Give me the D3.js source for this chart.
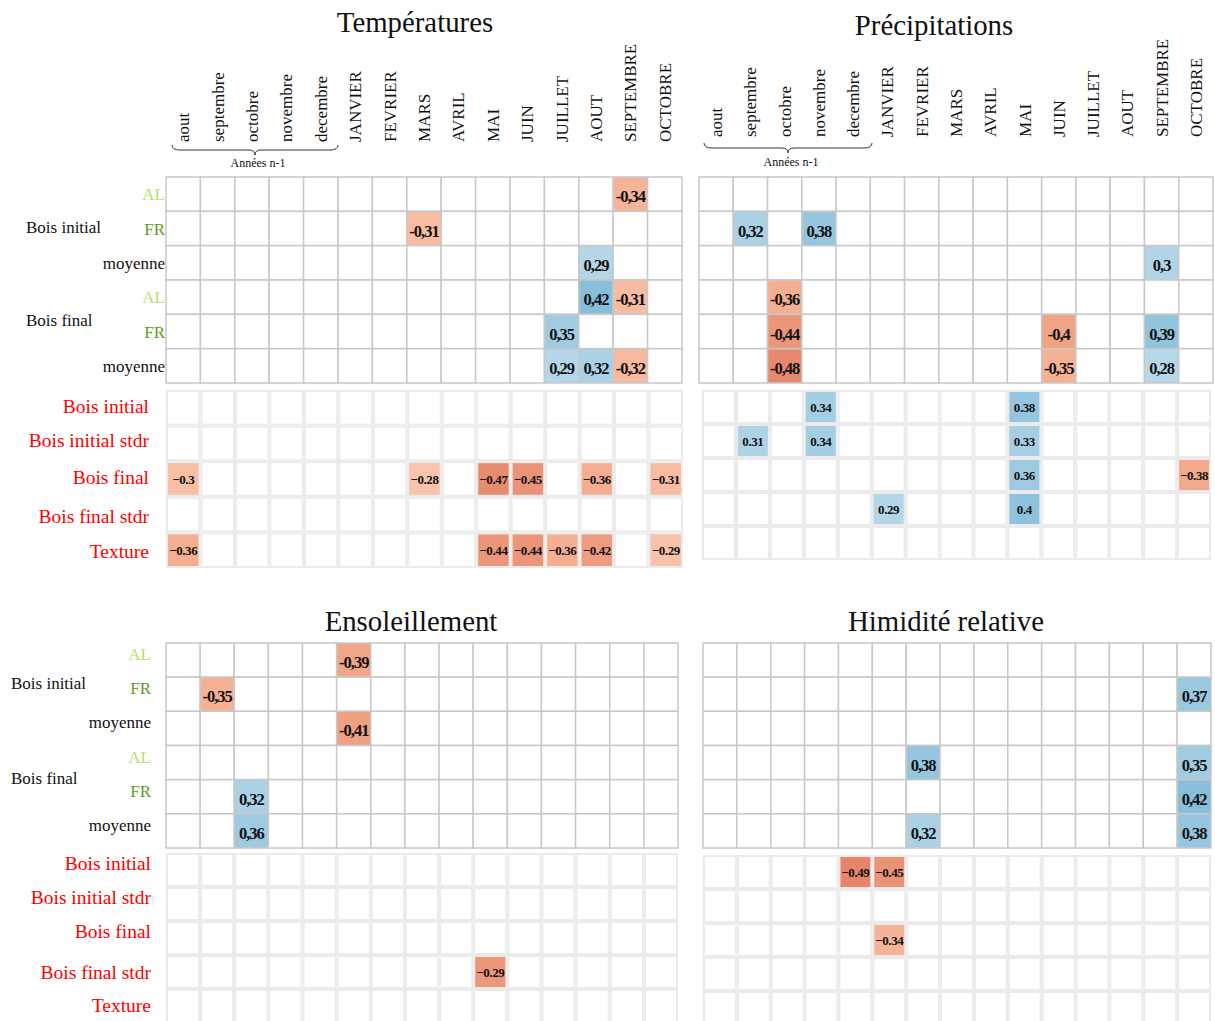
<!DOCTYPE html>
<html><head><meta charset="utf-8">
<script src="https://cdn.jsdelivr.net/npm/d3@7"></script>
<style>body{margin:0;background:#fff}svg{display:block}text{font-family:"Liberation Serif","Times New Roman",serif}</style>
</head><body>
<script>
// ---------- DATA ----------
const months = ["aout","septembre","octobre","novembre","decembre","JANVIER","FEVRIER","MARS","AVRIL","MAI","JUIN","JUILLET","AOUT","SEPTEMBRE","OCTOBRE"];
const upperRows = ["AL","FR","moyenne","AL","FR","moyenne"];
const upperGroups = ["Bois initial","Bois final"];
const lowerRows = ["Bois initial","Bois initial stdr","Bois final","Bois final stdr","Texture"];
const panelTitles = ["Températures","Précipitations","Ensoleillement","Himidité relative"];
const braceLabel = "Années n-1";

// [rowIndex, monthIndex, r]
const tempUpper = [[0,13,-0.34],[1,7,-0.31],[2,12,0.29],[3,12,0.42],[3,13,-0.31],[4,11,0.35],[5,11,0.29],[5,12,0.32],[5,13,-0.32]];
const tempLower = [[2,0,-0.3],[2,7,-0.28],[2,9,-0.47],[2,10,-0.45],[2,12,-0.36],[2,14,-0.31],
                   [4,0,-0.36],[4,9,-0.44],[4,10,-0.44],[4,11,-0.36],[4,12,-0.42],[4,14,-0.29]];
const precUpper = [[1,1,0.32],[1,3,0.38],[2,13,0.3],[3,2,-0.36],[4,2,-0.44],[4,10,-0.4],[4,13,0.39],[5,2,-0.48],[5,10,-0.35],[5,13,0.28]];
const precLower = [[0,3,0.34],[0,9,0.38],[1,1,0.31],[1,3,0.34],[1,9,0.33],[2,9,0.36],[2,14,-0.38],[3,5,0.29],[3,9,0.4]];
const sunUpper = [[0,5,-0.39],[1,1,-0.35],[2,5,-0.41],[4,2,0.32],[5,2,0.36]];
const sunLower = [[3,9,-0.29]];
const humUpper = [[1,14,0.37],[3,6,0.38],[3,14,0.35],[4,14,0.42],[5,6,0.32],[5,14,0.38]];
const humLower = [[0,4,-0.49],[0,5,-0.45],[2,5,-0.34]];

// ---------- LAYOUT ----------
const W = 1215, H = 1021;
const svg = d3.select("body").append("svg").attr("width", W).attr("height", H);
const color = v => d3.interpolateRdBu((v + 1) / 2);
const AL_COLOR = "#b5e36c", FR_COLOR = "#5a9e22";

const panels = [
  {title: panelTitles[0], tx: 415, ty: 32, up: tempUpper, lo: tempLower, loGain: 1,
   ux: [166, 682], uy: [177, 383], lx: [166, 683], ly: [390, 568],
   header: {base: 142, dx: 0, brace: [172, 338, 145], braceText: 167},
   rowLabels: {x: 165, dy: 0, gx: 26, gdy: [4, -6], lx: 149, ldy: [-1, -2, -1, 2, 2]}},
  {title: panelTitles[1], tx: 934, ty: 35, up: precUpper, lo: precLower, loGain: 1,
   ux: [699, 1213], uy: [177, 383], lx: [702, 1211], ly: [390, 560],
   header: {base: 137, dx: 0, brace: [704, 872, 143], braceText: 166}},
  {title: panelTitles[2], tx: 411, ty: 631, up: sunUpper, lo: sunLower, loGain: 1.5,
   ux: [166, 678], uy: [643, 848], lx: [166, 678], ly: [853, 1023],
   rowLabels: {x: 151, dy: -6, gx: 11, gdy: [-5, -13], lx: 151, ldy: [-6, -6, -6, 1, 0]}},
  {title: panelTitles[3], tx: 946, ty: 631, up: humUpper, lo: humLower, loGain: 1,
   ux: [703, 1211], uy: [643, 848], lx: [703, 1211], ly: [855, 1025]}
];

function fmtUp(v){ return String(v).replace(".", ","); }
function fmtLo(v){ return (v < 0 ? "\u2212" : "") + String(Math.abs(v)); }

panels.forEach(p => {
  const g = svg.append("g");
  g.append("text").attr("x", p.tx).attr("y", p.ty).attr("text-anchor", "middle")
    .attr("font-size", 28.8).attr("fill", "#111").text(p.title);

  // upper grid
  const xu = d3.scaleBand().domain(d3.range(months.length)).range(p.ux);
  const yu = d3.scaleBand().domain(d3.range(upperRows.length)).range(p.uy);
  const upMap = new Map(p.up.map(d => [d[0] + "_" + d[1], d[2]]));
  const cellsU = [];
  upperRows.forEach((r, i) => months.forEach((m, j) => cellsU.push({i, j, v: upMap.get(i + "_" + j)})));
  g.selectAll(".cu").data(cellsU).join("rect")
    .attr("x", d => xu(d.j)).attr("y", d => yu(d.i))
    .attr("width", xu.bandwidth()).attr("height", yu.bandwidth())
    .attr("fill", d => d.v === undefined ? "#fff" : color(d.v))
    .attr("stroke", "#c8c8c8").attr("stroke-width", 1.5);
  g.selectAll(".tu").data(cellsU.filter(d => d.v !== undefined)).join("text")
    .attr("x", d => xu(d.j) + xu.bandwidth() / 2).attr("y", d => yu(d.i) + yu.bandwidth() / 2 + 8)
    .attr("text-anchor", "middle").attr("font-size", 16.5).attr("font-weight", "bold")
    .attr("letter-spacing", -1).attr("fill", "#111").text(d => fmtUp(d.v));

  // lower grid
  const xl = d3.scaleBand().domain(d3.range(months.length)).range(p.lx);
  const yl = d3.scaleBand().domain(d3.range(lowerRows.length)).range(p.ly);
  const loMap = new Map(p.lo.map(d => [d[0] + "_" + d[1], d[2]]));
  const cellsL = [];
  lowerRows.forEach((r, i) => months.forEach((m, j) => cellsL.push({i, j, v: loMap.get(i + "_" + j)})));
  g.selectAll(".cl").data(cellsL).join("rect")
    .attr("x", d => xl(d.j) + 1).attr("y", d => yl(d.i) + 1)
    .attr("width", xl.bandwidth() - 2).attr("height", yl.bandwidth() - 2)
    .attr("fill", d => d.v === undefined ? "#fff" : color(Math.max(-1, d.v * p.loGain)))
    .attr("stroke", "#ebebeb").attr("stroke-width", 2);
  g.selectAll(".tl").data(cellsL.filter(d => d.v !== undefined)).join("text")
    .attr("x", d => xl(d.j) + xl.bandwidth() / 2).attr("y", d => yl(d.i) + yl.bandwidth() / 2 + 4.5)
    .attr("text-anchor", "middle").attr("font-size", 13).attr("font-weight", "bold")
    .attr("letter-spacing", -0.4).attr("fill", "#111").text(d => fmtLo(d.v));

  // column headers
  if (p.header) {
    const h = p.header;
    g.selectAll(".hd").data(months).join("text")
      .attr("transform", (m, j) => `translate(${xu(j) + xu.bandwidth() / 2 + 6 + h.dx},${h.base}) rotate(-90)`)
      .attr("font-size", 17).attr("fill", "#111").text(m => m);
    const [b0, b1, by] = h.brace, bm = (b0 + b1) / 2;
    const path = d3.path();
    path.moveTo(b0, by); path.quadraticCurveTo(b0, by + 5, b0 + 8, by + 5);
    path.lineTo(bm - 6, by + 5); path.quadraticCurveTo(bm, by + 5, bm, by + 10);
    path.quadraticCurveTo(bm, by + 5, bm + 6, by + 5);
    path.lineTo(b1 - 8, by + 5); path.quadraticCurveTo(b1, by + 5, b1, by);
    g.append("path").attr("d", path.toString()).attr("fill", "none").attr("stroke", "#333").attr("stroke-width", 1);
    g.append("text").attr("x", bm + 3).attr("y", h.braceText).attr("text-anchor", "middle")
      .attr("font-size", 12).attr("fill", "#111").text(braceLabel);
  }

  // row labels
  if (p.rowLabels) {
    const rl = p.rowLabels;
    g.selectAll(".rl").data(upperRows).join("text")
      .attr("x", rl.x).attr("y", (r, i) => yu(i) + yu.bandwidth() / 2 + 6 + rl.dy)
      .attr("text-anchor", "end").attr("font-size", 17)
      .attr("fill", r => r === "AL" ? AL_COLOR : r === "FR" ? FR_COLOR : "#111").text(r => r);
    g.selectAll(".gl").data(upperGroups).join("text")
      .attr("x", rl.gx).attr("y", (r, k) => yu(k * 3 + 1) + yu.bandwidth() / 2 + rl.gdy[k])
      .attr("font-size", 17).attr("fill", "#111").text(r => r);
    g.selectAll(".ll").data(lowerRows).join("text")
      .attr("x", rl.lx).attr("y", (r, i) => yl(i) + yl.bandwidth() / 2 + 6 + rl.ldy[i])
      .attr("text-anchor", "end").attr("font-size", 19.5).attr("fill", "#ff0000").text(r => r);
  }
});
</script>
</body></html>
